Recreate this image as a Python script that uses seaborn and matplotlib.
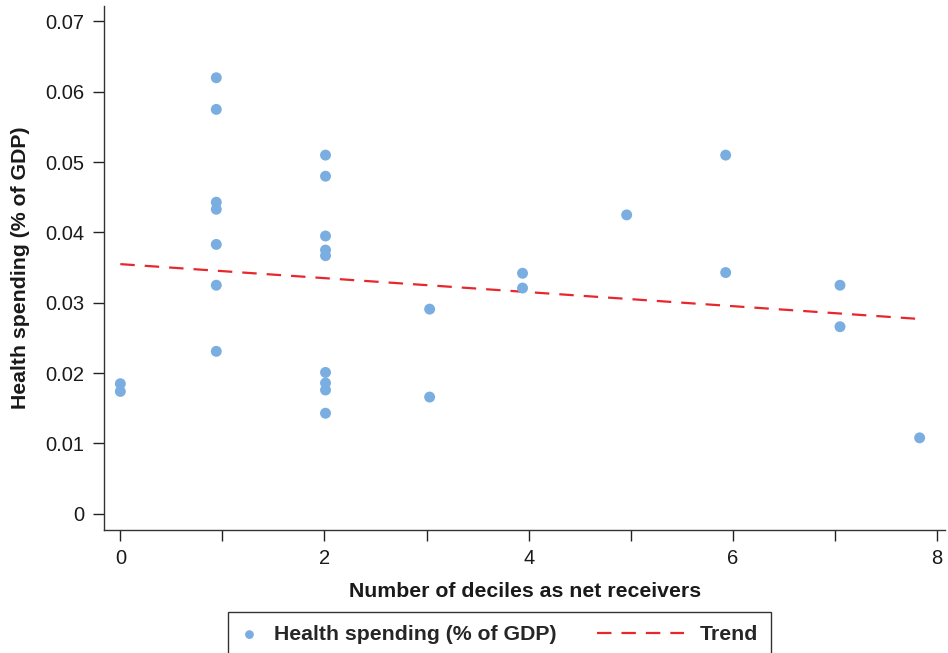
import matplotlib
matplotlib.use("Agg")
import matplotlib.pyplot as plt
import seaborn as sns
import pandas as pd
from matplotlib.ticker import MultipleLocator
from matplotlib.legend_handler import HandlerLine2D

# Data
deciles = [0, 0,
           0.94, 0.94, 0.94, 0.94, 0.94, 0.94, 0.94,
           2.01, 2.01, 2.01, 2.01, 2.01, 2.01, 2.01, 2.01, 2.01,
           3.03, 3.03,
           3.94, 3.94,
           4.96,
           5.93, 5.93,
           7.05, 7.05,
           7.83]
health_spending = [0.0185, 0.0174,
                   0.0620, 0.0575, 0.0443, 0.0433, 0.0383, 0.0325, 0.0231,
                   0.0510, 0.0480, 0.0395, 0.0375, 0.0367, 0.0201, 0.0186, 0.0176, 0.0143,
                   0.0291, 0.0166,
                   0.0342, 0.0321,
                   0.0425,
                   0.0510, 0.0343,
                   0.0325, 0.0266,
                   0.0108]
trend_x = [0.0, 7.83]
trend_y = [0.0355, 0.0277]

x_ticks = [0, 2, 4, 6, 8]
y_ticks = [0, 0.01, 0.02, 0.03, 0.04, 0.05, 0.06, 0.07]
y_tick_labels = ["0", "0.01", "0.02", "0.03", "0.04", "0.05", "0.06", "0.07"]

df = pd.DataFrame({"x": deciles, "y": health_spending})
trend = pd.DataFrame({"x": trend_x, "y": trend_y})

sns.set_theme(style="ticks")
plt.rcParams["font.family"] = ["Liberation Sans", "DejaVu Sans"]

fig = plt.figure(figsize=(9.48, 6.53), dpi=100)
ax = fig.add_axes([0.1097, 0.1884, 0.8873, 0.8024])

sns.scatterplot(data=df, x="x", y="y", ax=ax, color="#7aaee0", s=62,
                edgecolor="none", linewidth=0, label="Health spending (% of GDP)",
                zorder=3)
sns.lineplot(data=trend, x="x", y="y", ax=ax, color="#e8262c", linewidth=1.6,
             dashes=False, label="Trend", zorder=2)
ax.lines[-1].set_dashes([6.5, 4.5])

ax.set_xlim(-0.16, 8.08)
ax.set_ylim(-0.0023, 0.0722)
ax.set_xticks(x_ticks)
ax.xaxis.set_minor_locator(MultipleLocator(1))
ax.set_yticks(y_ticks)
ax.set_yticklabels(y_tick_labels)

for s in ["top", "right"]:
    ax.spines[s].set_visible(False)
for s in ["left", "bottom"]:
    ax.spines[s].set_color("#333333")
    ax.spines[s].set_linewidth(1.0)

ax.tick_params(axis="both", which="major", length=8, width=1.0, color="#222222",
               labelsize=14.5, labelcolor="#1a1a1a", pad=6)
ax.tick_params(axis="x", which="minor", length=8, width=1.0, color="#222222")

ax.set_xlabel("Number of deciles as net receivers", fontsize=15.3, fontweight="bold",
              labelpad=10, color="#1a1a1a")
ax.set_ylabel("Health spending (% of GDP)", fontsize=15.3, fontweight="bold",
              labelpad=11, color="#1a1a1a")


class LongLineHandler(HandlerLine2D):
    """Draw the dashed legend line extending further to the left."""
    def __init__(self, extra=50.0, **kw):
        super().__init__(**kw)
        self.extra = extra

    def create_artists(self, legend, orig_handle, xdescent, ydescent, width,
                       height, fontsize, trans):
        return super().create_artists(legend, orig_handle, xdescent + self.extra,
                                      ydescent, width + self.extra, height,
                                      fontsize, trans)


ax.get_legend().remove()
handles, labels = ax.get_legend_handles_labels()
trend_handle = [h for h, l in zip(handles, labels) if l == "Trend"][0]
leg = fig.legend(handles, labels, loc="upper center", bbox_to_anchor=(0.527, 0.0628),
                 ncol=2, frameon=True, fancybox=False, edgecolor="#000000",
                 prop={"weight": "bold", "size": 15.3}, handlelength=0.8,
                 columnspacing=5.2, borderpad=0.62, markerscale=0.8,
                 handletextpad=0.75, borderaxespad=0,
                 handler_map={trend_handle: LongLineHandler(extra=50.0)})
leg.get_frame().set_linewidth(1.0)

fig.savefig("out.png", dpi=100)
